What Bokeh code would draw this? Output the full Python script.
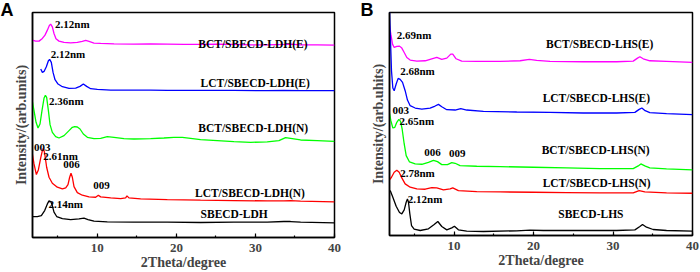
from bokeh.plotting import figure
from bokeh.layouts import row
from bokeh.models import ColumnDataSource, SingleIntervalTicker, FixedTicker
from bokeh.core.properties import value
from bokeh.embed import file_html
from bokeh.resources import INLINE

SERIF = "Liberation Serif"

# ---------------- Panel A data (2theta in degrees, intensity in arb. units) ----------------
a_bct_e_x = [1.78, 2.2, 2.63, 3.05, 3.38, 3.68, 3.93, 4.1, 4.31, 4.52, 4.77, 5.15, 5.79, 6.63, 7.47, 8.1, 8.53,
             8.95, 9.58, 10.42, 12.11, 14.64, 16.74, 18.85, 20.96, 23.06, 25.17, 27.28, 29.39, 31.49, 33.6,
             34.44, 35.71, 37.81, 40.0]
a_bct_e_y = [593, 590, 590, 598, 608, 623, 637, 641, 633, 613, 597, 590, 586, 585, 586, 589, 592,
             589, 584, 583, 582, 581, 582, 581, 580, 580, 581, 580, 579, 579, 580,
             581, 579, 579, 578]

a_lct_e_x = [2.84, 3.05, 3.26, 3.55, 3.81, 3.97, 4.18, 4.4, 4.65, 5.03, 5.58, 6.42, 7.26, 7.81, 8.23, 8.65,
             9.16, 10.0, 11.69, 14.64, 16.74, 18.85, 23.06, 27.28, 31.49, 33.6, 35.71, 40.0]
a_lct_e_y = [506, 496, 499, 513, 531, 535, 526, 496, 474, 461, 453, 448, 449, 454, 461, 454,
             447, 445, 443, 443, 443, 442, 442, 442, 441, 442, 441, 441]

a_bct_n_x = [1.78, 1.99, 2.25, 2.5, 2.75, 3.0, 3.26, 3.43, 3.59, 3.81, 4.02, 4.31, 4.73, 5.15, 5.79, 6.42,
             6.84, 7.13, 7.47, 7.81, 8.23, 8.74, 9.58, 10.42, 11.26, 12.11, 13.37, 14.64, 16.74, 18.43,
             19.69, 20.75, 21.8, 23.06, 25.17, 27.28, 29.39, 31.49, 32.97, 33.81, 34.65, 35.71, 37.81, 40.0]
a_bct_n_y = [409, 381, 346, 329, 341, 381, 419, 427, 421, 381, 339, 316, 303, 299, 306, 321,
             331, 333, 332, 326, 311, 301, 297, 298, 303, 301, 297, 296, 297, 299,
             301, 301, 298, 294, 291, 288, 286, 287, 291, 300, 297, 293, 291, 289]

a_lct_n_x = [1.78, 1.99, 2.29, 2.54, 2.84, 3.05, 3.17, 3.34, 3.59, 3.89, 4.31, 4.94, 5.58, 6.0, 6.29, 6.5,
             6.67, 6.84, 7.05, 7.47, 8.1, 8.95, 9.79, 10.13, 10.42, 11.69, 12.95, 13.58, 13.75, 14.0,
             15.48, 18.85, 23.06, 27.28, 31.49, 33.6, 34.44, 35.71, 40.0]
a_lct_n_y = [251, 221, 189, 203, 239, 261, 268, 253, 211, 181, 163, 151, 146, 149, 159, 181,
             193, 181, 153, 135, 127, 122, 121, 127, 122, 119, 117, 119, 125, 119,
             116, 114, 112, 111, 110, 110, 111, 109, 107]

a_sbecd_x = [1.78, 2.41, 2.92, 3.34, 3.68, 3.89, 4.1, 4.27, 4.52, 4.86, 5.58, 6.63, 7.68, 8.31, 8.82,
             9.58, 11.26, 14.64, 18.85, 23.06, 27.28, 31.49, 33.6, 34.44, 35.71, 40.0]
a_sbecd_y = [63, 63, 66, 81, 101, 110, 108, 99, 76, 63, 57, 54, 56, 58, 54,
             49, 47, 46, 46, 45, 46, 46, 48, 48, 46, 44]

a_labels = ["2.12nm", "BCT/SBECD-LDH(E)", "2.12nm", "LCT/SBECD-LDH(E)", "2.36nm", "BCT/SBECD-LDH(N)",
            "003", "2.61nm", "006", "009", "LCT/SBECD-LDH(N)", "2.14nm", "SBECD-LDH"]

# ---------------- Panel B data ----------------
b_bct_e_x = [1.87, 2.04, 2.25, 2.46, 2.79, 3.13, 3.42, 3.72, 4.05, 4.47, 5.31, 6.36, 7.19, 7.82, 8.45,
             9.08, 9.58, 9.83, 10.25, 10.96, 12.85, 15.78, 18.3, 19.47, 20.39, 22.07, 26.25, 30.44,
             32.54, 33.08, 33.38, 33.8, 34.63, 36.73, 40.0]
b_bct_e_y = [630, 605, 575, 565, 568, 569, 563, 550, 535, 527, 524, 525, 531, 535, 529,
             533, 545, 545, 531, 524, 523, 523, 525, 529, 526, 523, 522, 522,
             524, 533, 537, 531, 525, 523, 520]

b_lct_e_x = [1.87, 2.0, 2.12, 2.29, 2.46, 2.71, 2.96, 3.21, 3.51, 3.84, 4.13, 4.47, 5.1, 5.94, 6.98, 7.61,
             8.03, 8.45, 9.08, 10.13, 10.84, 11.59, 13.69, 17.88, 22.07, 26.25, 30.44, 32.75, 33.29,
             33.63, 34.04, 34.63, 36.73, 40.0]
b_lct_e_y = [675, 585, 495, 443, 435, 455, 472, 469, 460, 435, 407, 390, 383, 380, 383, 389,
             394, 387, 378, 377, 381, 377, 373, 371, 370, 368, 368, 370, 379,
             383, 375, 369, 366, 363]

b_bct_n_x = [1.87, 2.04, 2.29, 2.54, 2.79, 3.05, 3.26, 3.46, 3.72, 3.97, 4.39, 5.1, 5.94, 6.77, 7.4, 7.91,
             8.45, 9.16, 9.71, 10.13, 10.75, 12.85, 15.78, 19.97, 24.16, 28.35, 32.54, 33.17, 33.5,
             34.0, 34.63, 36.73, 40.0]
b_bct_n_y = [367, 345, 323, 325, 340, 349, 343, 320, 275, 240, 221, 215, 214, 220, 226, 222,
             213, 213, 219, 217, 210, 208, 207, 205, 203, 201, 201, 209, 215,
             209, 203, 200, 197]

b_lct_n_x = [1.87, 2.12, 2.46, 2.79, 3.09, 3.42, 3.84, 4.47, 5.31, 6.36, 7.19, 7.82, 8.66, 9.5, 9.83,
             10.54, 12.85, 15.78, 19.97, 24.16, 28.35, 32.54, 33.29, 34.0, 36.73, 40.0]
b_lct_n_y = [167, 175, 190, 196, 190, 173, 155, 145, 140, 139, 144, 143, 137, 140, 143,
             135, 132, 131, 130, 129, 128, 128, 135, 131, 128, 127]

b_sbecd_x = [1.96, 2.29, 2.71, 3.13, 3.42, 3.72, 3.97, 4.13, 4.26, 4.43, 4.64, 4.97, 5.73, 6.77, 7.49,
             7.95, 8.45, 9.08, 9.71, 10.04, 10.54, 11.59, 13.69, 17.88, 19.55, 21.23, 26.25, 30.44,
             32.75, 33.38, 33.71, 34.21, 35.05, 36.73, 40.0]
b_sbecd_y = [135, 115, 88, 69, 65, 77, 100, 110, 100, 65, 30, 19, 15, 20, 33,
             42, 27, 17, 23, 28, 17, 13, 12, 14, 16, 15, 15, 15,
             17, 27, 33, 25, 18, 15, 13]

b_labels = ["2.69nm", "BCT/SBECD-LHS(E)", "2.68nm", "LCT/SBECD-LHS(E)", "003", "2.65nm", "006", "009",
            "BCT/SBECD-LHS(N)", "2.78nm", "LCT/SBECD-LHS(N)", "2.12nm", "SBECD-LHS"]

COLORS = ["#FF00FF", "#0000FF", "#00FF00", "#FF0000", "#000000"]

# label anchor positions (data coordinates)
a_lab_x = [4.65, 22.77, 4.10, 23.06, 3.89, 22.77, 1.99, 3.17, 5.70, 9.49, 22.35, 3.81, 23.06]
a_lab_y = [641, 581, 551, 463, 411, 328, 271, 246, 219, 156, 133, 101, 71]
b_lab_x = [2.79, 21.56, 3.21, 21.14, 2.25, 3.13, 6.23, 9.37, 21.02, 3.21, 21.14, 4.18, 23.11]
b_lab_y = [602, 575, 493, 412, 377, 345, 250, 245, 257, 187, 157, 110, 65]

labels_y = {"A": "Intensity/(arb.units)", "B": "Intensity/(arb.uhits)"}


def make_panel(xr, yr, fw, fh, bl, br, bt, bb, series, labels, lx, ly, letter, letter_off):
    p = figure(x_range=xr, y_range=yr, frame_width=fw, frame_height=fh,
               min_border_left=bl, min_border_right=br, min_border_top=bt, min_border_bottom=bb,
               output_backend="svg", toolbar_location=None, background_fill_color="white",
               border_fill_color="white", title=letter)
    p.title.text_font = "Liberation Sans"
    p.title.text_font_style = "bold"
    p.title.text_font_size = "18px"
    p.title.align = "left"
    p.title.offset = letter_off
    p.title.standoff = -15
    p.title.text_color = "black"

    p.xgrid.visible = False
    p.ygrid.visible = False
    p.outline_line_color = "black"
    p.outline_line_width = 1.5
    p.outline_line_alpha = 1.0

    for (xs, ys), c in zip(series, COLORS):
        p.line(xs, ys, line_color=c, line_width=1.3)

    src = ColumnDataSource(dict(x=lx, y=ly, t=labels,
                                fs=["11px" if ("nm" in t or t.isdigit()) else "11.5px" for t in labels]))
    p.text(x="x", y="y", text="t", source=src, text_font=value(SERIF), text_font_style="bold",
           text_font_size="fs", text_align="left", text_baseline="middle", text_color="black")

    xa = p.xaxis[0]
    xa.ticker = SingleIntervalTicker(interval=10, num_minor_ticks=2)
    xa.major_tick_in = 4
    xa.major_tick_out = 0
    xa.minor_tick_in = 2
    xa.minor_tick_out = 0
    xa.axis_line_width = 1.5
    xa.major_tick_line_width = 1.2
    xa.minor_tick_line_width = 1.2
    xa.major_label_text_font = SERIF
    xa.major_label_text_font_style = "bold"
    xa.major_label_text_font_size = "13px"
    xa.major_label_standoff = 6
    xa.axis_label = "2Theta/degree"
    xa.axis_label_text_font = SERIF
    xa.axis_label_text_font_style = "bold"
    xa.axis_label_text_font_size = "14px"
    xa.axis_label_standoff = 0

    ya = p.yaxis[0]
    ya.ticker = FixedTicker(ticks=[])
    ya.major_tick_in = 0
    ya.major_tick_out = 0
    ya.minor_tick_in = 0
    ya.minor_tick_out = 0
    ya.major_label_standoff = 0
    ya.axis_line_width = 1.5
    ya.axis_label = labels_y[letter]
    ya.axis_label_text_font = SERIF
    ya.axis_label_text_font_style = "bold"
    ya.axis_label_text_font_size = "14px"
    ya.axis_label_standoff = 4
    return p


pa = make_panel((1.8, 40.0), (0, 676), 302, 225, 32, 16, 12, 35,
                [(a_bct_e_x, a_bct_e_y), (a_lct_e_x, a_lct_e_y), (a_bct_n_x, a_bct_n_y),
                 (a_lct_n_x, a_lct_n_y), (a_sbecd_x, a_sbecd_y)],
                a_labels, a_lab_x, a_lab_y, "A", -32)
pb = make_panel((1.87, 40.0), (0, 670), 303, 223, 39, 8, 12, 37,
                [(b_bct_e_x, b_bct_e_y), (b_lct_e_x, b_lct_e_y), (b_bct_n_x, b_bct_n_y),
                 (b_lct_n_x, b_lct_n_y), (b_sbecd_x, b_sbecd_y)],
                b_labels, b_lab_x, b_lab_y, "B", -29)

layout = row(pa, pb, spacing=0)
open("out.html", "w").write(file_html(layout, INLINE))
